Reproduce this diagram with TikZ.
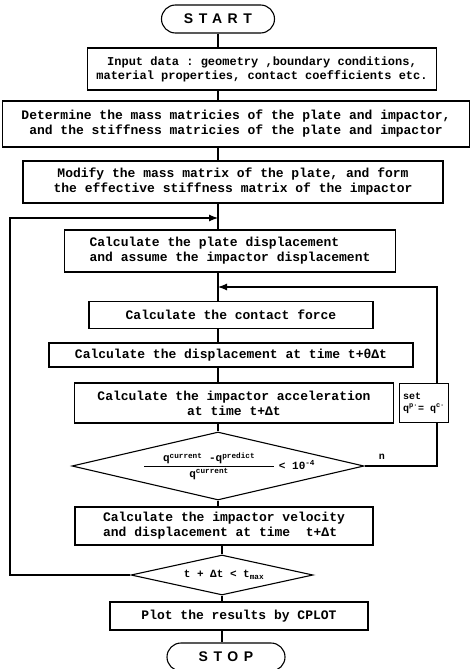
\documentclass[tikz,border=0pt]{standalone}
\usepackage{amsmath}
\usepackage{fontspec}
\setsansfont{Liberation Sans}
\setmonofont{Liberation Mono}
\newfontfamily\termfont[LetterSpace=40]{Liberation Sans}
\usetikzlibrary{arrows.meta, shapes.geometric}

\begin{document}
\begin{tikzpicture}[x=1pt, y=-1pt, line width=1.1pt]\ttfamily\bfseries
	\tikzstyle{terminal} = [draw, rounded corners=14pt, minimum height=28pt, inner sep=0pt, font=\termfont\bfseries\fontsize{14}{16}\selectfont]
	\tikzstyle{process} = [draw, align=center, inner sep=0pt, font=\fontsize{13}{15}\selectfont]
	\tikzstyle{decision} = [draw, diamond, inner sep=0pt]
	\tikzstyle{flow} = [-{Latex[length=9pt, width=7pt]}]
	\useasboundingbox (0,0) rectangle (471,669);
	
	\node[terminal, minimum width=113pt] (start) at (218,19) {START};
	\node[process, minimum width=349pt, minimum height=42pt, font=\fontsize{12}{14}\selectfont] (input) at (262,69) {Input data : geometry ,boundary conditions,\\ material properties, contact coefficients etc.};
	\node[process, minimum width=467pt, minimum height=46pt] (determine) at (236,124) {Determine the mass matricies of the plate and impactor,\\ and the stiffness matricies of the plate and impactor};
	\node[process, minimum width=420pt, minimum height=42pt] (modify) at (233,182) {Modify the mass matrix of the plate, and form\\ the effective stiffness matrix of the impactor};
	\node[process, align=left, minimum width=331pt, minimum height=42pt] (plate) at (230,251) {Calculate the plate displacement\\ and assume the impactor displacement};
	\node[process, minimum width=284pt, minimum height=27pt] (contact) at (231,315) {Calculate the contact force};
	\node[process, minimum width=364pt, minimum height=24pt] (disp) at (231,355) {Calculate the displacement at time t+θΔt};
	\node[process, minimum width=319pt, minimum height=40pt] (accel) at (234,403) {Calculate the impactor acceleration\\ at time t+Δt};
	\node[process, align=left, minimum width=49pt, minimum height=39pt, font=\fontsize{10}{12}\selectfont] (set) at (424,403) {set\\ q\textsuperscript{p·}= q\textsuperscript{c·}};
	\node[decision, minimum width=292pt, minimum height=68pt] (dia1) at (218,466) {};
	\node[font=\fontsize{11}{13}\selectfont] (ratio) at (229,466) {$\dfrac{\makebox[130pt]{\text{q\textsuperscript{current} -q\textsuperscript{predict}}}}{\text{q\textsuperscript{current}}}$\,\,< 10\textsuperscript{-4}};
	\node[process, align=left, minimum width=298pt, minimum height=38pt] (velocity) at (224,526) {Calculate the impactor velocity\\ and displacement at time~~t+Δt};
	\node[decision, minimum width=182pt, minimum height=40pt] (dia2) at (222,575) {};
	\node[font=\fontsize{11}{13}\selectfont] (cond) at (224,575) {t + Δt < t\textsubscript{max}};
	\node[process, minimum width=258pt, minimum height=28pt] (plot) at (239,616) {Plot the results by CPLOT};
	\node[terminal, minimum width=118pt] (stop) at (226,657) {STOP};
	
	\draw (start) -- (start |- input.north);
	\draw (input.south -| start) -- (determine.north -| start);
	\draw (determine.south -| start) -- (modify.north -| start);
	\draw (modify.south -| start) -- (plate.north -| start);
	\draw (plate.south -| start) -- (contact.north -| start);
	\draw (contact.south -| start) -- (disp.north -| start);
	\draw (disp.south -| start) -- (accel.north -| start);
	\draw (accel.south -| start) -- (dia1.north);
	\draw (dia1.south) -- (velocity.north -| dia1);
	\draw (velocity.south -| dia2) -- (dia2.north);
	\draw (dia2.south) -- (plot.north -| dia2);
	\draw (plot.south -| dia2) -- (stop.north -| dia2);
	
	% loop back to the plate step
	\coordinate (back) at (10,218);
	\draw[flow] (dia2.west) -| (back) -- (back -| start);
	% corrector loop
	\coordinate (ret) at (437,287);
	\draw (dia1.east) -| node[pos=0.12, above=3pt] {n} (ret |- set.south);
	\draw[flow] (set.north -| ret) -- (ret) -- (ret -| start);
\end{tikzpicture}
\end{document}
